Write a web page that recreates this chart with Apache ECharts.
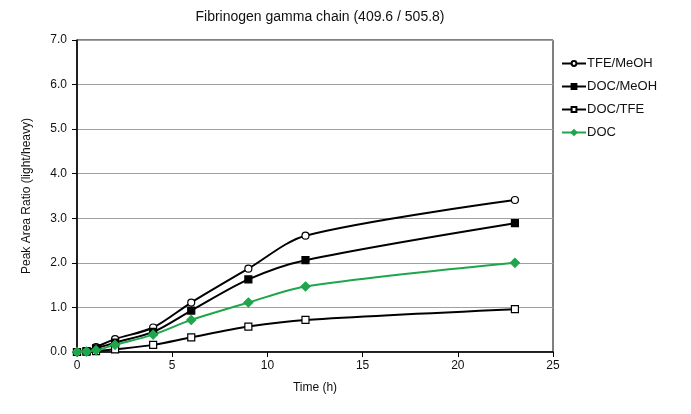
<!DOCTYPE html>
<html><head><meta charset="utf-8">
<script src="https://cdn.jsdelivr.net/npm/echarts@6/dist/echarts.min.js"></script>
<style>html,body{margin:0;padding:0;background:#fff}#c{width:691px;height:414px}</style>
</head><body><div id="c"></div>
<script>
const times = [0, 0.5, 1, 2, 4, 6, 9, 12, 23];
const tfeMeoh = [0, 0.02, 0.11, 0.29, 0.55, 1.11, 1.87, 2.61, 3.41];
const docMeoh = [0, 0.02, 0.08, 0.21, 0.45, 0.93, 1.63, 2.06, 2.89];
const docTfe  = [0, 0.01, 0.02, 0.06, 0.16, 0.33, 0.57, 0.72, 0.96];
const doc     = [0, 0.01, 0.04, 0.16, 0.39, 0.72, 1.11, 1.47, 2.00];
const yTicks = [0,1,2,3,4,5,6,7];

const pair = arr => times.map((t,i)=>[t, arr[i]]);
const green = '#1fa64b';
function ser(name, data, symbol, fill, stroke){
  return {name, type:'line', data:pair(data), smooth:0.3, symbol, symbolSize: symbol==='diamond'?9:7,
    showAllSymbol:true,
    lineStyle:{color:stroke, width:2},
    itemStyle:{color:fill, borderColor:stroke, borderWidth:1.2}};
}
const chart = echarts.init(document.getElementById('c'));
chart.setOption({
  animation:false,
  backgroundColor:'#fff',
  title:{text:'Fibrinogen gamma chain (409.6 / 505.8)', left:315, textAlign:'center', top:5,
    textStyle:{fontFamily:'Liberation Sans, Arial', fontSize:14, fontWeight:'normal', color:'#111'}},
  legend:{orient:'vertical', left:556, top:52, itemGap:10, itemWidth:24, itemHeight:6,
    textStyle:{fontFamily:'Liberation Sans, Arial', fontSize:13, color:'#111', padding:[0,0,0,-4]},
    data:['TFE/MeOH','DOC/MeOH','DOC/TFE','DOC']},
  grid:{left:77, top:40, right:138, bottom:62, show:true, borderColor:'#000', borderWidth:1},
  xAxis:{type:'value', min:0, max:25, interval:5,
    name:'Time (h)', nameLocation:'middle', nameGap:30,
    nameTextStyle:{fontFamily:'Liberation Sans, Arial', fontSize:12, color:'#111'},
    axisLine:{lineStyle:{color:'#000', width:1.5}},
    axisTick:{show:true, length:5, lineStyle:{color:'#000'}},
    axisLabel:{fontFamily:'Liberation Sans, Arial', fontSize:12, color:'#111', margin:8},
    splitLine:{show:false}},
  yAxis:{type:'value', min:0, max:7, interval:1,
    name:'Peak Area Ratio (light/heavy)', nameLocation:'middle', nameGap:44,
    nameTextStyle:{fontFamily:'Liberation Sans, Arial', fontSize:12, color:'#111'},
    axisLine:{show:true, lineStyle:{color:'#000', width:1.5}},
    axisTick:{show:true, length:5, lineStyle:{color:'#000'}},
    axisLabel:{fontFamily:'Liberation Sans, Arial', fontSize:12, color:'#111', margin:10,
      formatter:v=>yTicks.includes(v)?v.toFixed(1):''},
    splitLine:{show:true, lineStyle:{color:'#a0a0a0', width:1.2}}},
  series:[
    ser('TFE/MeOH', tfeMeoh, 'circle', '#fff', '#000'),
    ser('DOC/MeOH', docMeoh, 'rect', '#000', '#000'),
    ser('DOC/TFE', docTfe, 'rect', '#fff', '#000'),
    ser('DOC', doc, 'diamond', green, green)
  ]
});
</script></body></html>
